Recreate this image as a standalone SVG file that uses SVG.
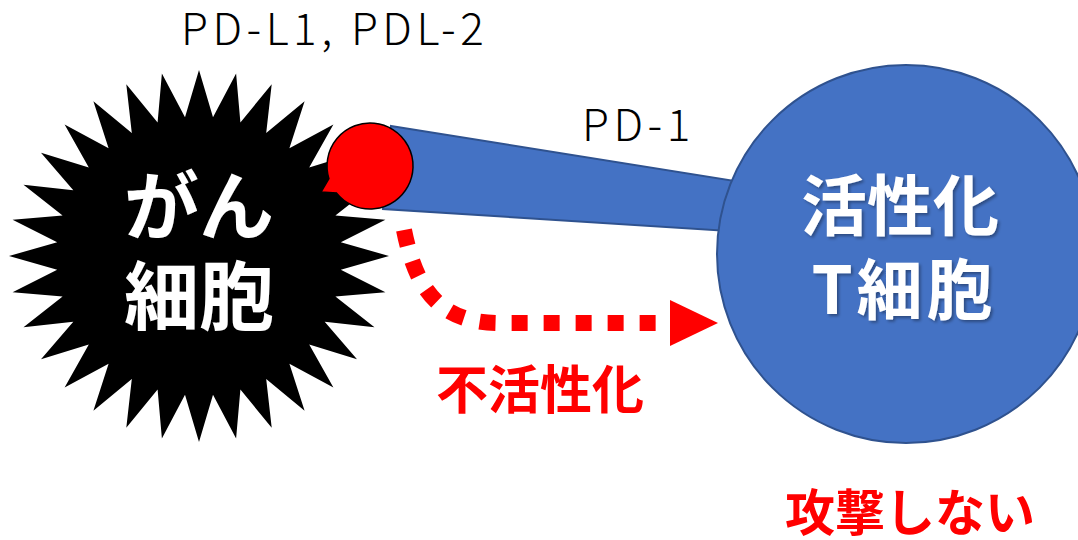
<svg xmlns="http://www.w3.org/2000/svg" width="1078" height="540" viewBox="0 0 1078 540">
  <defs>
    <style>
      .cell-text { font-family: "Noto Sans CJK JP", "Noto Sans", sans-serif; font-weight: 700; fill: #FFFFFF; text-anchor: middle; }
      .label { font-family: "Noto Sans CJK JP", "Noto Sans", sans-serif; font-weight: 300; fill: #000000; letter-spacing: 4.5px; }
      .note { font-family: "Noto Sans CJK JP", "Noto Sans", sans-serif; font-weight: 700; fill: #FF0000; text-anchor: middle; }
      .receptor { fill: #4472C4; stroke: #2F528F; stroke-width: 2; }
      .ligand { fill: #FF0000; stroke: #000000; stroke-width: 1.5; }
      .inhibit { fill: none; stroke: #FF0000; stroke-width: 16; stroke-dasharray: 16 16; }
    </style>
    <filter id="soft-shadow" x="-10%" y="-10%" width="130%" height="130%">
      <feDropShadow dx="2" dy="2" stdDeviation="1.5" flood-color="#000000" flood-opacity="0.35"/>
    </filter>
    <marker id="arrow-red" markerUnits="userSpaceOnUse" markerWidth="50" markerHeight="48" refX="0" refY="23" orient="auto">
      <polygon points="0,0 48,23 0,46" fill="#FF0000"/>
    </marker>
  </defs>

  <rect width="1078" height="540" fill="#FFFFFF"/>

  <!-- PD-1 receptor bar, drawn beneath the T cell -->
  <g id="pd1-bar">
    <polygon class="receptor" points="391,126 760,185 760,233 383,209"/>
  </g>

  <!-- cancer cell: 32-point star -->
  <g id="cancer-cell">
    <polygon fill="#000000" points="389,256 340.8,269.7 385.4,292.3 335.4,296.5 374.5,327.2 324.7,321.8 357,359.3 309.2,344.5 333.4,387.5 289.4,363.8 304.6,410.7 266.2,379 271.7,427.8 240.4,389.5 236.1,438.4 213,394.8 199,442 185,394.8 161.9,438.4 157.6,389.5 126.3,427.8 131.8,379 93.4,410.7 108.6,363.8 64.6,387.5 88.8,344.5 41,359.3 73.3,321.8 23.5,327.2 62.6,296.5 12.6,292.3 57.2,269.7 9,256 57.2,242.3 12.6,219.7 62.6,215.5 23.5,184.8 73.3,190.2 41,152.7 88.8,167.5 64.6,124.5 108.6,148.2 93.4,101.3 131.8,133 126.3,84.2 157.6,122.5 161.9,73.6 185,117.2 199,70 213,117.2 236.1,73.6 240.4,122.5 271.7,84.2 266.2,133 304.6,101.3 289.4,148.2 333.4,124.5 309.2,167.5 357,152.7 324.7,190.2 374.5,184.8 335.4,215.5 385.4,219.7 340.8,242.3"/>
    <g class="cell-text" font-size="75" filter="url(#soft-shadow)">
      <text x="199" y="234">がん</text>
      <text x="199" y="324">細胞</text>
    </g>
  </g>

  <!-- PD-L1 ligand: wedge-ellipse callout -->
  <g id="pdl1">
    <path class="ligand" d="M321,192 L336.6,193.1 A43,43 0 1 0 328.9,178.6 Z"/>
  </g>

  <!-- activated T cell -->
  <g id="t-cell">
    <circle cx="906" cy="254" r="189" fill="#4472C4" stroke="#2F528F" stroke-width="2"/>
    <g class="cell-text" font-size="66" filter="url(#soft-shadow)">
      <text x="900" y="230">活性化</text>
      <text x="904" y="314" letter-spacing="4">T細胞</text>
    </g>
  </g>

  <!-- inhibition connector -->
  <g id="connectors">
    <path class="inhibit" d="M404,230 C416,290 440,323 500,323 L670,323" marker-end="url(#arrow-red)"/>
  </g>

  <!-- labels -->
  <g id="labels">
    <text class="label" x="181" y="45" font-size="44">PD-L1, PDL-2</text>
    <text class="label" x="582" y="141" font-size="44">PD-1</text>
    <text class="note" x="540" y="409" font-size="52">不活性化</text>
    <text class="note" x="910" y="531" font-size="50">攻撃しない</text>
  </g>
</svg>
